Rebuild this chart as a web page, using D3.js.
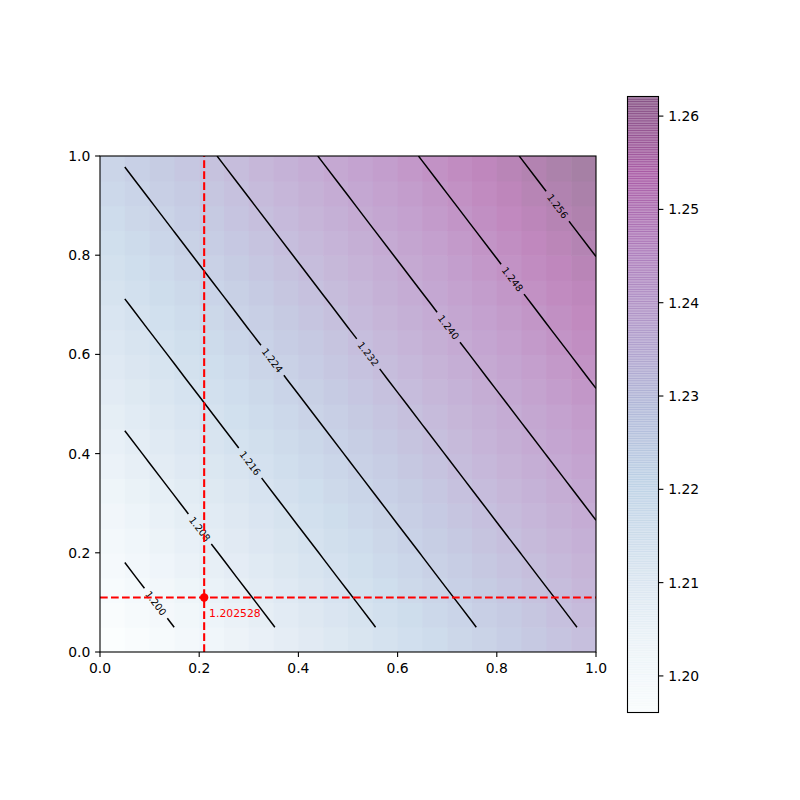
<!DOCTYPE html>
<html><head><meta charset="utf-8">
<script src="https://cdn.jsdelivr.net/npm/d3@7"></script>
<style>body{margin:0;background:#fff} text{font-family:"DejaVu Sans",sans-serif}</style>
</head><body><svg id="c" width="800" height="800"></svg>
<script>
// ---------------- data ----------------
const xs = [0.05,0.10,0.15,0.20,0.25,0.30,0.35,0.40,0.45,0.50,0.55,0.60,0.65,0.70,0.75,0.80,0.85,0.90,0.95,1.00];
const ys = [0.05,0.10,0.15,0.20,0.25,0.30,0.35,0.40,0.45,0.50,0.55,0.60,0.65,0.70,0.75,0.80,0.85,0.90,0.95,1.00];
// z[j][i] : value at (xs[i], ys[j])
const z = [
[1.19608,1.19805,1.20002,1.20199,1.20396,1.20593,1.20790,1.20987,1.21184,1.21381,1.21578,1.21775,1.21972,1.22169,1.22366,1.22563,1.22760,1.22957,1.23154,1.23351],
[1.19758,1.19955,1.20152,1.20349,1.20546,1.20743,1.20940,1.21137,1.21334,1.21531,1.21728,1.21925,1.22122,1.22319,1.22516,1.22713,1.22910,1.23107,1.23304,1.23501],
[1.19909,1.20106,1.20303,1.20500,1.20697,1.20894,1.21091,1.21288,1.21485,1.21682,1.21879,1.22076,1.22273,1.22470,1.22667,1.22864,1.23061,1.23258,1.23455,1.23652],
[1.20059,1.20256,1.20453,1.20650,1.20847,1.21044,1.21241,1.21438,1.21635,1.21832,1.22029,1.22226,1.22423,1.22620,1.22817,1.23014,1.23211,1.23408,1.23605,1.23802],
[1.20210,1.20407,1.20604,1.20801,1.20998,1.21195,1.21392,1.21589,1.21786,1.21983,1.22180,1.22377,1.22574,1.22771,1.22968,1.23165,1.23362,1.23559,1.23756,1.23953],
[1.20360,1.20557,1.20754,1.20951,1.21148,1.21345,1.21542,1.21739,1.21936,1.22133,1.22330,1.22527,1.22724,1.22921,1.23118,1.23315,1.23512,1.23709,1.23906,1.24103],
[1.20511,1.20708,1.20905,1.21102,1.21299,1.21496,1.21693,1.21890,1.22087,1.22284,1.22481,1.22678,1.22875,1.23072,1.23269,1.23466,1.23663,1.23860,1.24057,1.24254],
[1.20661,1.20858,1.21055,1.21252,1.21449,1.21646,1.21843,1.22040,1.22237,1.22434,1.22631,1.22828,1.23025,1.23222,1.23419,1.23616,1.23813,1.24010,1.24207,1.24404],
[1.20812,1.21009,1.21206,1.21403,1.21600,1.21797,1.21994,1.22191,1.22388,1.22585,1.22782,1.22979,1.23176,1.23373,1.23570,1.23767,1.23964,1.24161,1.24358,1.24555],
[1.20962,1.21159,1.21356,1.21553,1.21750,1.21947,1.22144,1.22341,1.22538,1.22735,1.22932,1.23129,1.23326,1.23523,1.23720,1.23917,1.24114,1.24311,1.24508,1.24705],
[1.21113,1.21310,1.21507,1.21704,1.21901,1.22098,1.22295,1.22492,1.22689,1.22886,1.23083,1.23280,1.23477,1.23674,1.23871,1.24068,1.24265,1.24462,1.24659,1.24856],
[1.21263,1.21460,1.21657,1.21854,1.22051,1.22248,1.22445,1.22642,1.22839,1.23036,1.23233,1.23430,1.23627,1.23824,1.24021,1.24218,1.24415,1.24612,1.24809,1.25006],
[1.21414,1.21611,1.21808,1.22005,1.22202,1.22399,1.22596,1.22793,1.22990,1.23187,1.23384,1.23581,1.23778,1.23975,1.24172,1.24369,1.24566,1.24763,1.24960,1.25157],
[1.21564,1.21761,1.21958,1.22155,1.22352,1.22549,1.22746,1.22943,1.23140,1.23337,1.23534,1.23731,1.23928,1.24125,1.24322,1.24519,1.24716,1.24913,1.25110,1.25307],
[1.21715,1.21912,1.22109,1.22306,1.22503,1.22700,1.22897,1.23094,1.23291,1.23488,1.23685,1.23882,1.24079,1.24276,1.24473,1.24670,1.24867,1.25064,1.25261,1.25458],
[1.21865,1.22062,1.22259,1.22456,1.22653,1.22850,1.23047,1.23244,1.23441,1.23638,1.23835,1.24032,1.24229,1.24426,1.24623,1.24820,1.25017,1.25214,1.25411,1.25608],
[1.22016,1.22213,1.22410,1.22607,1.22804,1.23001,1.23198,1.23395,1.23592,1.23789,1.23986,1.24183,1.24380,1.24577,1.24774,1.24971,1.25168,1.25365,1.25562,1.25759],
[1.22166,1.22363,1.22560,1.22757,1.22954,1.23151,1.23348,1.23545,1.23742,1.23939,1.24136,1.24333,1.24530,1.24727,1.24924,1.25121,1.25318,1.25515,1.25712,1.25909],
[1.22317,1.22514,1.22711,1.22908,1.23105,1.23302,1.23499,1.23696,1.23893,1.24090,1.24287,1.24484,1.24681,1.24878,1.25075,1.25272,1.25469,1.25666,1.25863,1.26060],
[1.22467,1.22664,1.22861,1.23058,1.23255,1.23452,1.23649,1.23846,1.24043,1.24240,1.24437,1.24634,1.24831,1.25028,1.25225,1.25422,1.25619,1.25816,1.26013,1.26210]
];
const levels = [1.200,1.208,1.216,1.224,1.232,1.240,1.248,1.256];
const labelAt = [0.63,0.50,0.50,0.42,0.42,0.47,0.53,0.50];
const axisTicks = [0.0,0.2,0.4,0.6,0.8,1.0];
const cbTicks = [1.20,1.21,1.22,1.23,1.24,1.25,1.26];
const probeX = [0.21];
const probeY = [0.11];
const probeLabel = ["1.202528"];
const bupu = ["#f7fcfd","#e0ecf4","#bfd3e6","#9ebcda","#8c96c6","#8c6bb1","#88419d","#810f7c","#4d004b"];

// ---------------- layout ----------------
const svg = d3.select("#c");
const P = {l:100, r:596, t:156, b:652};
const CB = {l:627.5, r:658.5, t:96.5, b:712.5};
const xS = d3.scaleLinear().domain([0,1]).range([P.l, P.r]);
const yS = d3.scaleLinear().domain([0,1]).range([P.b, P.t]);
const flat = z.flat();
const zmin = d3.min(flat), zmax = d3.max(flat);
const cmap = d3.scaleLinear().domain(d3.range(9).map(i=>i/8)).range(bupu).interpolate(d3.interpolateRgb);
const norm = d3.scaleLinear().domain([zmin,zmax]).range([0,1]).clamp(true);
const alpha = 0.5;
const blend = c => d3.interpolateRgb("#ffffff", c)(alpha);
const nx = xs.length, ny = ys.length;

const defs = svg.append("defs");
defs.append("clipPath").attr("id","pclip").append("rect")
  .attr("x",P.l).attr("y",P.t).attr("width",P.r-P.l).attr("height",P.b-P.t);
defs.append("clipPath").attr("id","cbclip").append("rect")
  .attr("x",CB.l).attr("y",CB.t).attr("width",CB.r-CB.l).attr("height",CB.b-CB.t);

// heatmap (image extent 0..1)
const cells = [];
z.forEach((row,j)=>row.forEach((v,i)=>cells.push({i,j,v})));
svg.append("g").attr("clip-path","url(#pclip)").selectAll("rect").data(cells).join("rect")
  .attr("x", d=>xS(d.i/nx))
  .attr("y", d=>yS((d.j+1)/ny))
  .attr("width", d=>xS((d.i+1)/nx)-xS(d.i/nx)+0.6)
  .attr("height", d=>yS(d.j/ny)-yS((d.j+1)/ny)+0.6)
  .attr("fill", d=>blend(cmap(norm(d.v))));

// contours
const idx2x = d3.scaleLinear().domain([0.5, nx-0.5]).range([xs[0], xs[nx-1]]);
const idx2y = d3.scaleLinear().domain([0.5, ny-0.5]).range([ys[0], ys[ny-1]]);
const contours = d3.contours().size([nx, ny]).thresholds(levels)(flat);
function runsOf(ring){
  const pts = ring.slice(0,-1);
  const onB = p => p[0]<=0 || p[0]>=nx || p[1]<=0 || p[1]>=ny;
  const s = pts.findIndex(onB);
  const rot = s<0 ? pts : pts.slice(s).concat(pts.slice(0,s));
  const runs=[]; let cur=[];
  rot.forEach(p=>{ if(onB(p)){ if(cur.length>1) runs.push(cur); cur=[]; } else cur.push(p); });
  if(cur.length>1) runs.push(cur);
  return runs;
}
function cumLen(pts){ const c=[0]; for(let k=1;k<pts.length;k++) c.push(c[k-1]+Math.hypot(pts[k][0]-pts[k-1][0],pts[k][1]-pts[k-1][1])); return c; }
function sub(pts, a, b){
  const out=[]; let acc=0;
  for(let k=0;k<pts.length-1;k++){
    const p=pts[k], q=pts[k+1]; const L=Math.hypot(q[0]-p[0], q[1]-p[1]);
    const s0=acc, s1=acc+L;
    if (L>0 && s1>=a && s0<=b){
      const t0=Math.max(0,(a-s0)/L), t1=Math.min(1,(b-s0)/L);
      const at=t=>[p[0]+(q[0]-p[0])*t, p[1]+(q[1]-p[1])*t];
      if(!out.length) out.push(at(t0));
      out.push(at(t1));
    }
    acc=s1;
  }
  return out;
}
const lineGen = d3.line();
const gC = svg.append("g").attr("clip-path","url(#pclip)");
const gL = svg.append("g");
contours.forEach((c, li)=>{
  let runs = [];
  c.coordinates.forEach(poly=>poly.forEach(ring=>{ runs = runs.concat(runsOf(ring)); }));
  runs = runs.map(r=>r.map(p=>[xS(idx2x(p[0])), yS(idx2y(p[1]))]));
  runs.forEach(r=>{ if (r[0][0] > r[r.length-1][0]) r.reverse(); });
  const main = d3.greatest(runs, r=>d3.max(cumLen(r)));
  runs.forEach(r=>{
    if (r !== main) { gC.append("path").attr("d", lineGen(r)).attr("fill","none").attr("stroke","#000").attr("stroke-width",1.5); return; }
    const cum = cumLen(r), L = cum[cum.length-1];
    const s = labelAt[li]*L;
    let k = d3.bisectLeft(cum, s); k = Math.max(1, Math.min(k, r.length-1));
    const p0=r[k-1], p1=r[k];
    const t=(s-cum[k-1])/((cum[k]-cum[k-1])||1);
    const px=p0[0]+(p1[0]-p0[0])*t, py=p0[1]+(p1[1]-p0[1])*t;
    let ang = Math.atan2(p1[1]-p0[1], p1[0]-p0[0])*180/Math.PI;
    if (ang>90) ang-=180; if (ang<-90) ang+=180;
    const txt = gL.append("text").attr("transform",`translate(${px},${py}) rotate(${ang})`)
      .attr("text-anchor","middle").attr("dy","0.36em").attr("font-size","9.7px").attr("fill","#000")
      .text(d3.format(".3f")(c.value));
    const w = txt.node().getComputedTextLength();
    const gap = w + 10;
    [[0, s-gap/2],[s+gap/2, L]].forEach(([a,b])=>{
      if (b>a) gC.append("path").attr("d", lineGen(sub(r,a,b))).attr("fill","none").attr("stroke","#000").attr("stroke-width",1.5);
    });
  });
});

// probe lines & point
const gR = svg.append("g").attr("clip-path","url(#pclip)");
probeX.forEach(v=>gR.append("line").attr("x1",xS(v)).attr("x2",xS(v)).attr("y1",yS(0)).attr("y2",yS(1))
  .attr("stroke","#ff0000").attr("stroke-width",2.08).attr("stroke-dasharray","7.7,3.3"));
probeY.forEach(v=>gR.append("line").attr("x1",xS(0)).attr("x2",xS(1)).attr("y1",yS(v)).attr("y2",yS(v))
  .attr("stroke","#ff0000").attr("stroke-width",2.08).attr("stroke-dasharray","7.7,3.3"));
svg.append("circle").attr("cx",xS(probeX[0])).attr("cy",yS(probeY[0])).attr("r",4.2).attr("fill","#ff0000");
svg.append("text").attr("x",xS(probeX[0]+0.01)).attr("y",yS(probeY[0]-0.04))
  .attr("font-size","10.8px").attr("fill","#ff0000").text(probeLabel[0]);

// axes
const spine = svg.append("rect").attr("x",P.l).attr("y",P.t).attr("width",P.r-P.l).attr("height",P.b-P.t)
  .attr("fill","none").attr("stroke","#000").attr("stroke-width",1.1);
const fmt1 = d3.format(".1f");
const gx = svg.append("g");
axisTicks.forEach(v=>{
  gx.append("line").attr("x1",xS(v)).attr("x2",xS(v)).attr("y1",P.b).attr("y2",P.b+4.9).attr("stroke","#000").attr("stroke-width",1.1);
  gx.append("text").attr("x",xS(v)).attr("y",P.b+20.8).attr("text-anchor","middle").attr("font-size","13.9px").text(fmt1(v));
  gx.append("line").attr("x1",P.l).attr("x2",P.l-4.9).attr("y1",yS(v)).attr("y2",yS(v)).attr("stroke","#000").attr("stroke-width",1.1);
  gx.append("text").attr("x",P.l-9.7).attr("y",yS(v)).attr("dy","0.36em").attr("text-anchor","end").attr("font-size","13.9px").text(fmt1(v));
});

// colorbar
const cbS = d3.scaleLinear().domain([zmin,zmax]).range([CB.b, CB.t]);
const N = 256;
const segs = d3.range(N).map(k=>({a: zmin+(zmax-zmin)*k/N, b: zmin+(zmax-zmin)*(k+1)/N, t:(k+0.5)/N}));
svg.append("g").attr("clip-path","url(#cbclip)").selectAll("rect").data(segs).join("rect")
  .attr("x",CB.l).attr("width",CB.r-CB.l)
  .attr("y",d=>cbS(d.b)).attr("height",d=>cbS(d.a)-cbS(d.b)+0.7)
  .attr("fill",d=>cmap(d.t)).attr("fill-opacity",alpha);
svg.append("rect").attr("x",CB.l).attr("y",CB.t).attr("width",CB.r-CB.l).attr("height",CB.b-CB.t)
  .attr("fill","none").attr("stroke","#000").attr("stroke-width",1.1);
const fmt2 = d3.format(".2f");
cbTicks.forEach(v=>{
  svg.append("line").attr("x1",CB.r).attr("x2",CB.r+4.9).attr("y1",cbS(v)).attr("y2",cbS(v)).attr("stroke","#000").attr("stroke-width",1.1);
  svg.append("text").attr("x",CB.r+9.7).attr("y",cbS(v)).attr("dy","0.36em").attr("font-size","13.9px").text(fmt2(v));
});
</script></body></html>
